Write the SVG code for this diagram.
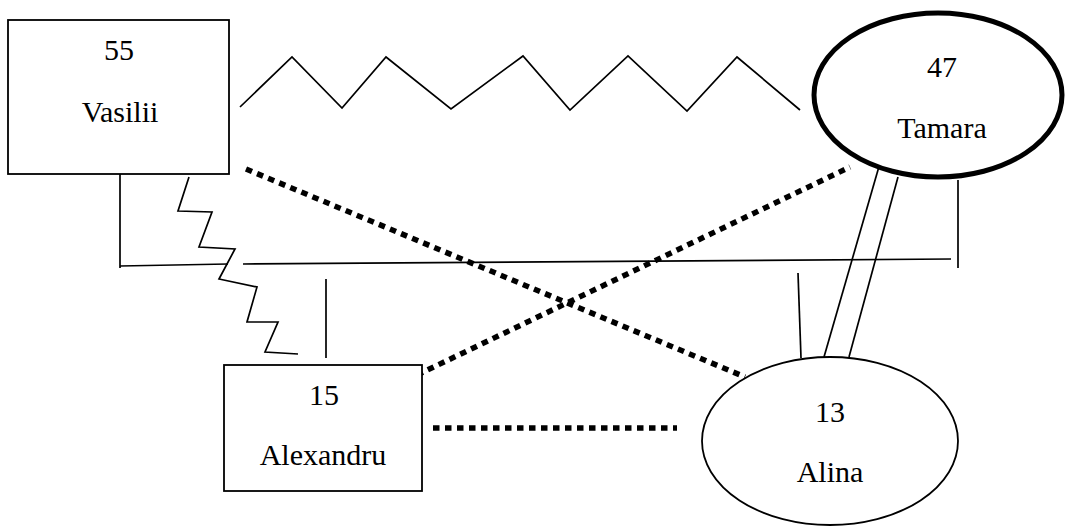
<svg xmlns="http://www.w3.org/2000/svg" width="1068" height="527" viewBox="0 0 1068 527">
<style>
.node{fill:#fff;stroke:#000;stroke-width:1.8}
.thick{fill:#fff;stroke:#000;stroke-width:5}
.t{font-family:"Liberation Serif","Times New Roman",serif;font-size:30px;fill:#000;text-anchor:middle}
.ln{fill:none;stroke:#000;stroke-width:1.7}
.dot{fill:none;stroke:#000;stroke-width:5.5;stroke-dasharray:6.5 5.5}
</style>
<rect width="1068" height="527" fill="#fff"/>
<g id="connectors">
<polyline class="ln" points="240,107 292,57 342,108 386,57 451,109 523,56 570,110 628,56 687,111 737,57 800,110"/>
<line class="ln" x1="120" y1="174" x2="120" y2="268"/>
<line class="ln" x1="120" y1="266" x2="228" y2="264"/>
<line class="ln" x1="243" y1="264" x2="951" y2="259"/>
<line class="ln" x1="958" y1="180" x2="958" y2="268"/>
<polyline class="ln" points="189,177 178,211 212,212 199,247 235,249 219,279 257,287 247,322 278,322 265,352 298,354"/>
<line class="ln" x1="326" y1="279" x2="326" y2="358"/>
<line class="ln" x1="798" y1="273" x2="801" y2="358"/>
<line class="ln" x1="880" y1="163" x2="824" y2="357"/>
<line class="ln" x1="898" y1="177" x2="849" y2="357"/>
<line class="dot" x1="246" y1="169" x2="745" y2="377"/>
<line class="dot" x1="417" y1="375" x2="850" y2="167"/>
<line class="dot" x1="433" y1="428" x2="677" y2="428"/>
</g>
<g id="vasilii">
<rect class="node" x="8" y="20" width="221" height="154"/>
<text class="t" x="119" y="60">55</text>
<text class="t" x="120" y="122">Vasilii</text>
</g>
<g id="tamara">
<ellipse class="thick" cx="938" cy="95" rx="124" ry="82"/>
<text class="t" x="942" y="77">47</text>
<text class="t" x="942" y="138">Tamara</text>
</g>
<g id="alexandru">
<rect class="node" x="224" y="365" width="198" height="126"/>
<text class="t" x="324" y="405">15</text>
<text class="t" x="323" y="465">Alexandru</text>
</g>
<g id="alina">
<ellipse class="node" cx="830" cy="441" rx="128" ry="84"/>
<text class="t" x="830" y="422">13</text>
<text class="t" x="830" y="482">Alina</text>
</g>
</svg>
